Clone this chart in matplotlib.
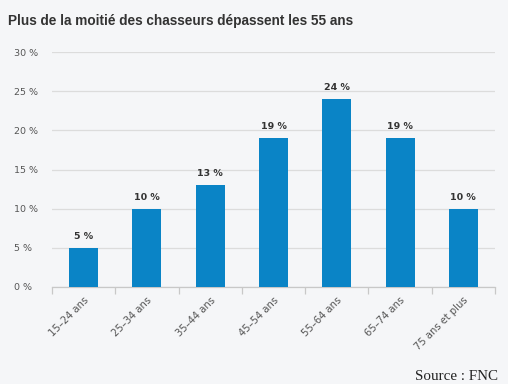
import matplotlib
matplotlib.use("Agg")
import matplotlib.pyplot as plt

categories = ["15–24 ans", "25–34 ans", "35–44 ans", "45–54 ans", "55–64 ans", "65–74 ans", "75 ans et plus"]
values = [5, 10, 13, 19, 24, 19, 10]
yticks = [0, 5, 10, 15, 20, 25, 30]

bg = "#f5f6f8"
fig = plt.figure(figsize=(5.08, 3.84), dpi=100, facecolor=bg)
W, H = 508, 384
ax = fig.add_axes([52 / W, 1 - 287 / H, (495 - 52) / W, (287 - 52) / H], facecolor=bg)

lblfont = "DejaVu Sans"
x = list(range(len(categories)))
ax.bar(x, values, width=0.46, color="#0a84c6", zorder=3)
for xi, v in zip(x, values):
    ax.text(xi, v + 0.9, f"{v} %", ha="center", va="bottom", fontsize=6.8,
            fontweight="bold", color="#333333", zorder=4, family=lblfont)

ax.set_xlim(-0.5, len(categories) - 0.5)
ax.set_ylim(0, 30)
ax.set_yticks(yticks)
ax.set_yticklabels([f"{t} %" for t in yticks], fontsize=6.8, color="#555555", family=lblfont)
ax.yaxis.grid(True, color="#dcdcdc", linewidth=0.9, zorder=0)
ax.tick_params(axis="y", length=0, pad=27)
for lbl in ax.get_yticklabels():
    lbl.set_horizontalalignment("left")

ax.set_xticks(x)
ax.set_xticklabels(categories, rotation=45, ha="right", rotation_mode="anchor",
                   fontsize=7.2, color="#555555", family=lblfont)
ax.tick_params(axis="x", length=0, pad=6)
ax.set_xticks([i - 0.5 for i in range(len(categories) + 1)], minor=True)
ax.tick_params(axis="x", which="minor", length=5, color="#c8c8c8", width=0.9)

for s in ["top", "right", "left"]:
    ax.spines[s].set_visible(False)
ax.spines["bottom"].set_color("#c8c8c8")
ax.spines["bottom"].set_linewidth(0.9)

fig.text(8 / W, 1 - 21 / H, "Plus de la moitié des chasseurs dépassent les 55 ans",
         fontsize=9.8, fontweight="bold", color="#333333", va="center", ha="left",
         family="Liberation Sans")
fig.text(498 / W, 1 - 376 / H, "Source : FNC", fontsize=10.8, family="Liberation Serif",
         color="#222222", ha="right", va="center")

fig.savefig("out.png", dpi=100, facecolor=bg)
